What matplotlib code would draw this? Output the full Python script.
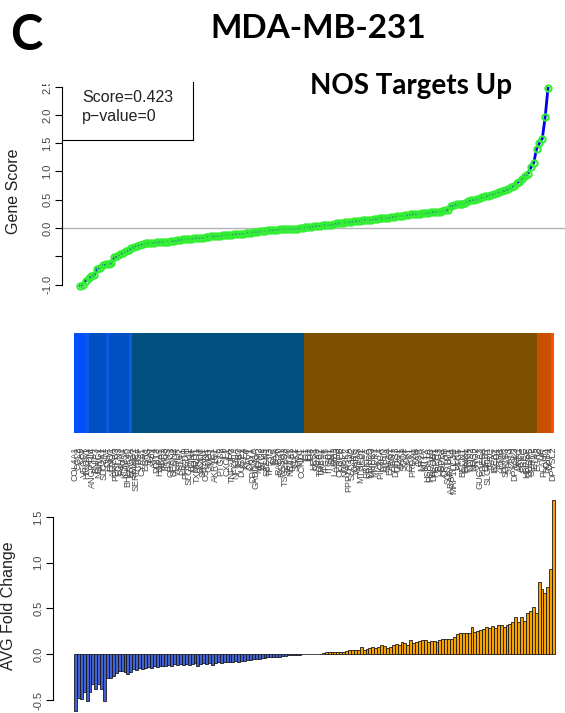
import numpy as np
import matplotlib
matplotlib.use('Agg')
import matplotlib.pyplot as plt
from matplotlib.lines import Line2D
from matplotlib.patches import Rectangle
from matplotlib.colors import to_rgb

plt.rcParams['font.family'] = ['Liberation Sans', 'DejaVu Sans']

# ranked gene scores (ascending)
gene_score = [
    -1.02, -1.00, -0.93, -0.89, -0.85, -0.83, -0.72, -0.70, -0.66, -0.64,
    -0.63, -0.62, -0.52, -0.50, -0.46, -0.44, -0.41, -0.39, -0.36, -0.33,
    -0.31, -0.30, -0.28, -0.27, -0.27, -0.26, -0.26, -0.25, -0.25, -0.24,
    -0.24, -0.24, -0.23, -0.23, -0.22, -0.21, -0.20, -0.20, -0.19, -0.19,
    -0.18, -0.18, -0.17, -0.17, -0.16, -0.16, -0.15, -0.15, -0.14, -0.14,
    -0.13, -0.13, -0.12, -0.12, -0.11, -0.11, -0.10, -0.10, -0.09, -0.08,
    -0.08, -0.07, -0.07, -0.06, -0.05, -0.05, -0.04, -0.04, -0.03, -0.03,
    -0.02, -0.02, -0.02, -0.01, -0.01, -0.01, -0.01, 0.00, 0.00, 0.01,
    0.01, 0.02, 0.03, 0.04, 0.04, 0.05, 0.05, 0.06, 0.06, 0.07,
    0.08, 0.08, 0.09, 0.10, 0.10, 0.11, 0.12, 0.12, 0.13, 0.14,
    0.14, 0.15, 0.15, 0.16, 0.16, 0.17, 0.17, 0.18, 0.18, 0.19,
    0.20, 0.21, 0.22, 0.22, 0.23, 0.23, 0.24, 0.24, 0.25, 0.25,
    0.26, 0.26, 0.27, 0.28, 0.28, 0.29, 0.29, 0.30, 0.31, 0.32,
    0.38, 0.41, 0.42, 0.42, 0.43, 0.45, 0.47, 0.49, 0.50, 0.51,
    0.53, 0.55, 0.56, 0.57, 0.59, 0.60, 0.62, 0.64, 0.65, 0.67,
    0.69, 0.72, 0.75, 0.80, 0.82, 0.86, 0.92, 0.96, 1.07, 1.15,
    1.40, 1.50, 1.58, 1.96, 2.47,
]

# average fold change per gene, same order
fold_change = [
    -0.62, -0.48, -0.49, -0.41, -0.51, -0.41, -0.33, -0.38, -0.33, -0.38, -0.51,
    -0.26, -0.26, -0.235, -0.21, -0.18, -0.18, -0.19, -0.22, -0.19,
    -0.16, -0.17, -0.15, -0.16, -0.15, -0.14, -0.15, -0.13, -0.14, -0.13,
    -0.125, -0.13, -0.12, -0.125, -0.11, -0.12, -0.11, -0.115, -0.11, -0.12,
    -0.11, -0.10, -0.125, -0.11, -0.10, -0.11, -0.10, -0.12, -0.10, -0.09,
    -0.10, -0.09, -0.08, -0.085, -0.08, -0.075, -0.08, -0.07, -0.075, -0.065,
    -0.06, -0.055, -0.05, -0.05, -0.045, -0.04, -0.035, -0.03, -0.03, -0.025,
    -0.025, -0.02, -0.015, -0.01, -0.005, -0.004, -0.003, -0.003, -0.002, -0.002,
    0.002, 0.002, 0.003, 0.003, 0.004,
    0.01, 0.02, 0.02, 0.025, 0.025, 0.025, 0.025, 0.025, 0.03, 0.045,
    0.047, 0.047, 0.05, 0.076, 0.047, 0.06, 0.07, 0.08, 0.065, 0.076,
    0.10, 0.09, 0.073, 0.084, 0.10, 0.11, 0.10, 0.13, 0.12, 0.10,
    0.157, 0.128, 0.135, 0.146, 0.153, 0.153, 0.135, 0.146, 0.14, 0.138,
    0.153, 0.164, 0.164, 0.164, 0.162, 0.19, 0.22, 0.228, 0.233, 0.237,
    0.233, 0.295, 0.248, 0.25, 0.266, 0.273, 0.295, 0.29, 0.313, 0.29,
    0.324, 0.324, 0.30, 0.324, 0.328, 0.357, 0.41, 0.357, 0.41, 0.364,
    0.455, 0.477, 0.514, 0.455, 0.79, 0.71, 0.667, 0.74, 0.936, 1.69,
]

gene_names = [
    "COL4A1", "CCL2", "CA9", "VEGFA", "HMOX1", "ADM", "ANGPTL4", "BNIP3", "NDRG1", "PGK1",
    "SLC2A1", "LDHA", "ENO1", "ALDOA", "PFKFB3", "EGLN3", "P4HA1", "KDM3A", "BHLHE40", "ERO1A",
    "SMAD7", "SERPINE1", "CTGF", "CYR61", "EGR1", "FOS", "JUN", "ATF4", "DDIT3", "HSPA5",
    "XBP1", "TRIB3", "ASNS", "CHAC1", "SESN2", "VLDLR", "STC2", "PSAT1", "PHGDH", "SLC7A11",
    "BDNF", "NQO1", "TXNRD1", "GCLM", "SRXN1", "OSGIN1", "G6PD", "ME1", "AKR1C1", "FTL",
    "PTGS2", "IL8", "CXCL1", "IL6", "TNFAIP3", "NFKBIA", "IER3", "DUSP1", "KLF4", "KLF6",
    "CAV1", "CDKN1A", "GADD45A", "MDM2", "BTG2", "PLK3", "SESN1", "TP53I3", "FAS", "BAX",
    "RAB20", "RASD1", "TSC22D3", "ZFP36", "NR4A1", "KLF2", "SGK1", "MYC", "CCND1", "ID1",
    "ID2", "ID3", "HES1", "SOX9", "TGFB2", "THBS1", "ITGA5", "ITGB1", "FN1", "LAMB3",
    "ATF3", "CEBPB", "MAFF", "NUAK2", "PPP1R15A", "SLC3A2", "CARS", "WARS", "MTHFD2", "ASS1",
    "PRKCA", "PRKCD", "MAPK3", "MAPK1", "AKT1", "PIK3CA", "PTEN", "HIF1A", "EPAS1", "ARNT",
    "DHRS3", "ODC1", "SAT1", "SOD2", "CAT", "GPX1", "PRDX1", "TXN", "GSR", "MT2A",
    "MT1X", "HSPA1A", "HSPA1B", "DNAJB1", "HSPH1", "BAG3", "HSPB1", "CRYAB", "SQSTM1", "GABARAPL1",
    "MAP1LC3B", "ULK1", "ATG5", "BECN1", "PINK1", "PRKN", "NOS2", "NOS3", "ARG2", "GUCY1A3",
    "PDE5A", "CFTR", "SLC40A1", "TFRC", "IREB2", "ACO1", "FTH1", "HAMP", "SOCS3", "STAT3",
    "CISH", "DPYSL3", "DKK1", "AREG", "EREG", "HBEGF", "DUSP6", "SPRY2", "ETV5", "EGR3",
    "LIF", "PLAUR", "DDIT4", "DPP4", "DPYSL2",
]

# heatmap strip as (level, run length)
heat_runs = [(-3, 4), (-2.5, 1), (-2, 6), (-2.5, 1), (-2, 7), (-2.5, 1), (-1, 59),
             (1, 80), (2, 5), (3, 1)]
heat_colors = {-3: '#0050ff', -2.5: '#0a5ae6', -2: '#0050c4', -1: '#004f7f',
               1: '#7f4f00', 2: '#c85000', 3: '#ff5000'}

N = len(gene_score)
x = np.arange(N)

W, H = 565, 713
fig = plt.figure(figsize=(W / 100, H / 100), dpi=100)


def box(left, top, right, bottom):
    return [left / W, 1 - bottom / H, (right - left) / W, (bottom - top) / H]


# --- gene score curve ---
ax0 = fig.add_axes(box(62, 82, 565, 300))
ax0.axhline(0, color='#b4b4b4', lw=1, zorder=1)
ax0.plot(x, gene_score, color='#0000ee', lw=2, zorder=2)
ax0.plot(x, gene_score, 'o', ms=4.5, mfc='none', mec='#33ee33', mew=1.5, zorder=3)
ax0.set_xlim(-6.31, 169.96)
ax0.set_ylim(-1.273, 2.581)
for s in ['top', 'right', 'bottom']:
    ax0.spines[s].set_visible(False)
ax0.spines['left'].set_bounds(-1, 2.5)
ax0.spines['left'].set_linewidth(0.8)
ax0.set_xticks([])
ax0.set_yticks(np.arange(-1, 2.51, 0.5))
ax0.set_yticklabels(['-1.0', '', '0.0', '0.5', '1.0', '1.5', '2.0', '2.5'],
                    rotation=90, va='center')
ax0.tick_params(axis='y', direction='out', length=5, width=0.8, labelsize=8,
                labelcolor='#444444', pad=2)
fig.text(14 / W, 1 - 191 / H, 'Gene Score', rotation=90, ha='center', va='center',
         fontsize=11.5, color='#222222')

# score legend box
fig.add_artist(Line2D([193 / W, 193 / W], [1 - 82 / H, 1 - 140 / H], color='black', lw=0.8))
fig.add_artist(Line2D([62 / W, 193 / W], [1 - 140 / H, 1 - 140 / H], color='black', lw=0.8))
fig.text(82 / W, 1 - 97 / H, 'Score=0.423', va='center', fontsize=11.5, color='#222222')
fig.text(82 / W, 1 - 116 / H, 'p\u2212value=0', va='center', fontsize=11.5, color='#222222')

# --- heatmap strip with gene labels ---
ax1 = fig.add_axes(box(74, 333, 554, 433))
levels = np.repeat([r[0] for r in heat_runs], [r[1] for r in heat_runs])
img = np.array([[to_rgb(heat_colors[lv]) for lv in levels]])
ax1.imshow(img, aspect='auto', interpolation='nearest', extent=(-0.5, N - 0.5, 0, 1))
for s in ax1.spines.values():
    s.set_visible(False)
ax1.set_yticks([])
ax1.set_xticks(x)
ax1.set_xticklabels(gene_names, rotation=90, fontsize=6.5, color='#4a4a4a')
ax1.tick_params(axis='x', length=0, pad=10)

# --- average fold change bars ---
ax2 = fig.add_axes(box(53, 495, 565, 713))
bar_colors = ['#4262d2' if v < 0 else '#f5a300' for v in fold_change]
ax2.bar(x, fold_change, width=1.0, color=bar_colors, edgecolor='#1a1a1a', linewidth=0.6)
ax2.set_xlim(-7.7, 167.9)
ax2.set_ylim(-0.642, 1.74)
for s in ['top', 'right', 'bottom']:
    ax2.spines[s].set_visible(False)
ax2.spines['left'].set_bounds(-0.5, 1.5)
ax2.spines['left'].set_linewidth(0.8)
ax2.set_xticks([])
ax2.set_yticks(np.arange(-0.5, 1.51, 0.5))
ax2.set_yticklabels(['-0.5', '0.0', '0.5', '1.0', '1.5'], rotation=90, va='center')
ax2.tick_params(axis='y', direction='out', length=5, width=0.8, labelsize=8,
                labelcolor='#444444', pad=2)
fig.text(9 / W, 1 - 606 / H, 'AVG Fold Change', rotation=90, ha='center', va='center',
         fontsize=11.5, color='#222222')

# blank band above the score panel
fig.add_artist(Rectangle((0, 1 - 84 / H), 1, 84 / H, transform=fig.transFigure,
                         facecolor='white', edgecolor='none', zorder=1))

# headings
fig.text(10 / W, 1 - 35 / H, 'C', fontsize=35, fontweight='bold', family='Lato',
         ha='left', va='center')
fig.text(318 / W, 1 - 28 / H, 'MDA-MB-231', fontsize=24, fontweight='bold', family='Lato',
         ha='center', va='center')
fig.text(411 / W, 1 - 86 / H, 'NOS Targets Up', fontsize=20, fontweight='bold', family='Lato',
         ha='center', va='center')

fig.savefig('out.png', dpi=100, facecolor='white')
